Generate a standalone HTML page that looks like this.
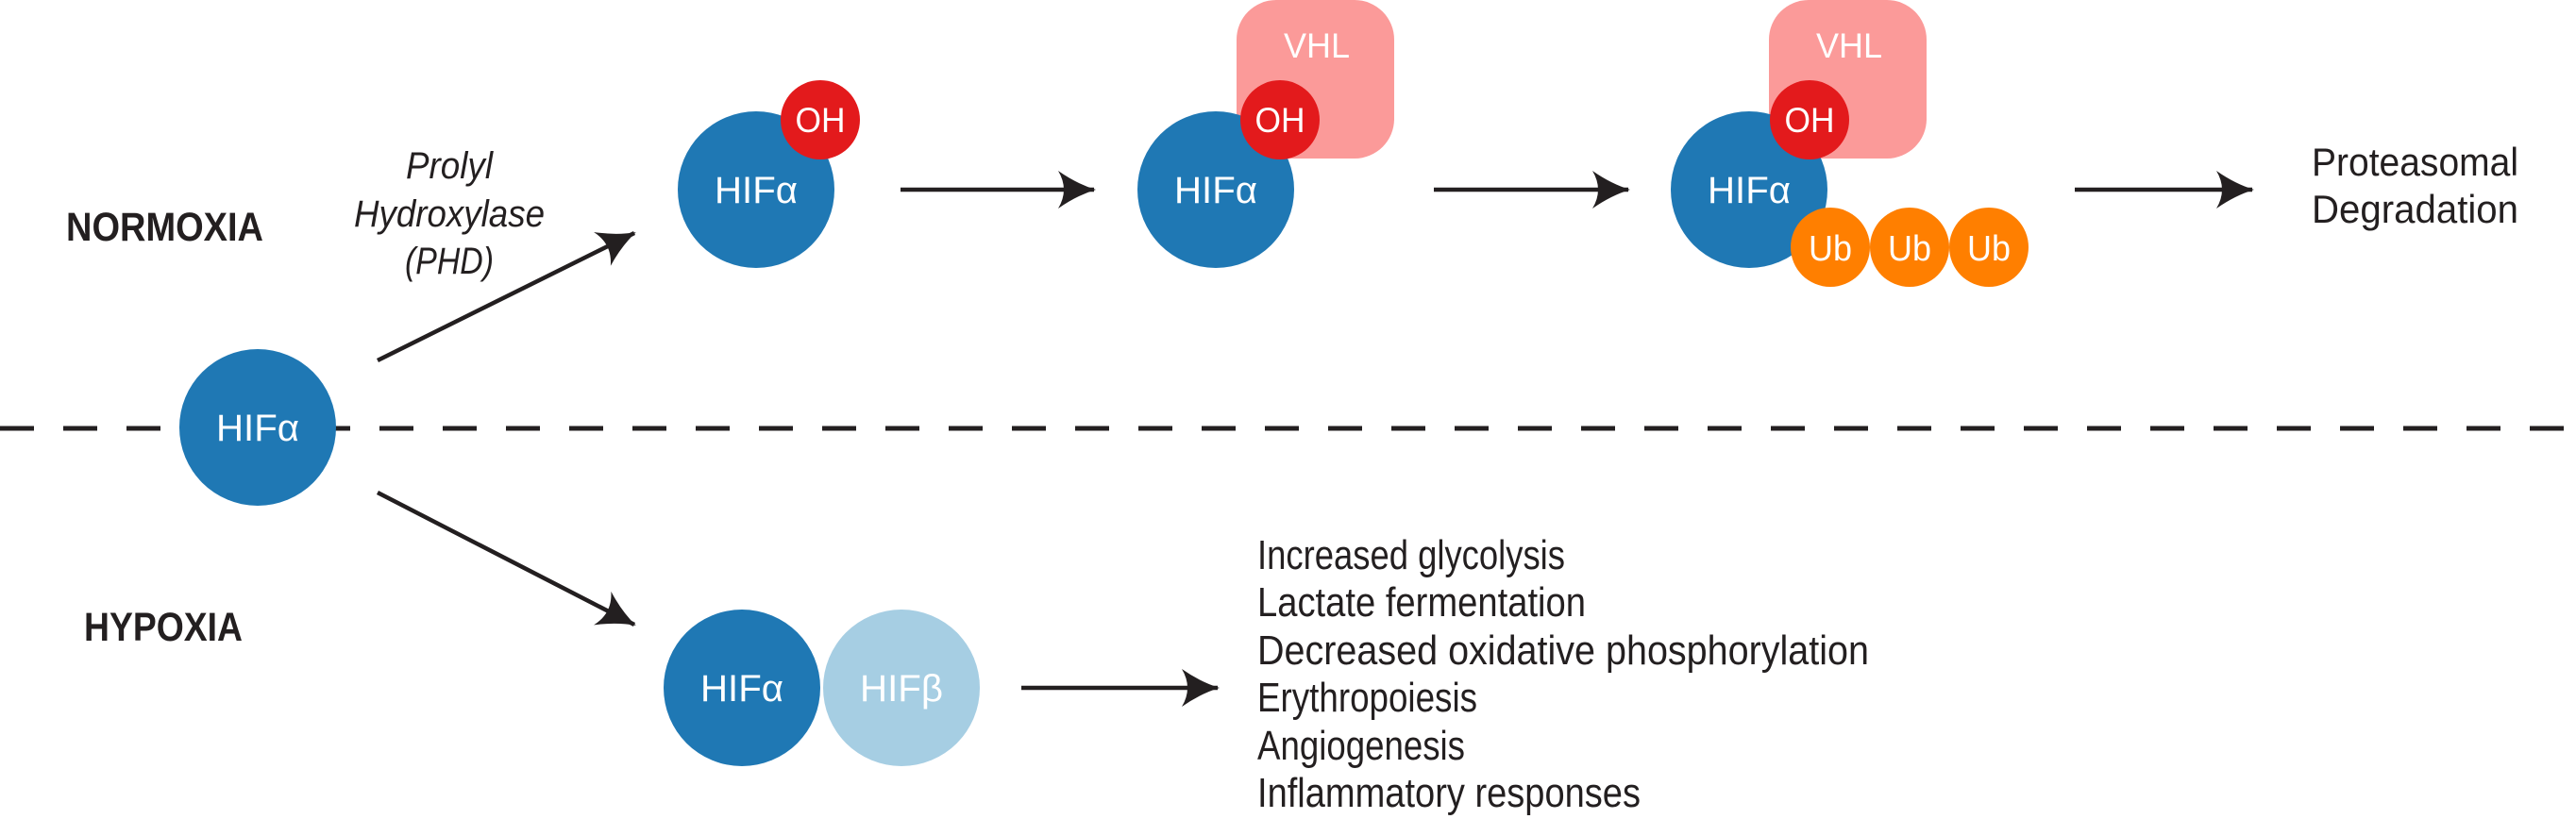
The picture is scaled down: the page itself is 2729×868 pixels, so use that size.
<!DOCTYPE html>
<html><head><meta charset="utf-8"><style>
html,body{margin:0;padding:0;background:#fff;}
svg{display:block;font-family:"Liberation Sans",sans-serif;}
</style></head><body>
<svg width="2729" height="868" viewBox="0 0 2729 868">
<defs>
<marker id="ah" viewBox="0 0 40 40" refX="38" refY="20" markerWidth="40" markerHeight="40" markerUnits="userSpaceOnUse" orient="auto">
<path d="M0,0 Q20,14 40,20 Q20,26 0,40 Q12,20 0,0 Z" fill="#231f20"/>
</marker>
</defs>
<line x1="0" y1="454" x2="2729" y2="454" stroke="#231f20" stroke-width="5" stroke-dasharray="36,31"/>

<text x="70" y="255" font-size="43" font-weight="bold" fill="#231f20" textLength="209" lengthAdjust="spacingAndGlyphs">NORMOXIA</text>
<text x="89" y="679" font-size="43" font-weight="bold" fill="#231f20" textLength="168" lengthAdjust="spacingAndGlyphs">HYPOXIA</text>

<g font-style="italic" font-size="40" fill="#231f20" text-anchor="middle">
<text x="476" y="189" textLength="92" lengthAdjust="spacingAndGlyphs">Prolyl</text>
<text x="476" y="240" textLength="202" lengthAdjust="spacingAndGlyphs">Hydroxylase</text>
<text x="476" y="290" textLength="94" lengthAdjust="spacingAndGlyphs">(PHD)</text>
</g>

<g stroke="#231f20" stroke-width="4.5" fill="none">
<line x1="400" y1="382" x2="672" y2="247" marker-end="url(#ah)"/>
<line x1="400" y1="522" x2="672" y2="662" marker-end="url(#ah)"/>
<line x1="954" y1="201" x2="1159" y2="201" marker-end="url(#ah)"/>
<line x1="1519" y1="201" x2="1725" y2="201" marker-end="url(#ah)"/>
<line x1="2198" y1="201" x2="2386" y2="201" marker-end="url(#ah)"/>
<line x1="1082" y1="729" x2="1290" y2="729" marker-end="url(#ah)"/>
</g>

<g font-size="40" fill="#fff" text-anchor="middle">
<g><circle cx="273" cy="453" r="83" fill="#1f78b4"/><text x="273" y="467" textLength="88" lengthAdjust="spacingAndGlyphs">HIFα</text></g>

<g><circle cx="801" cy="201" r="83" fill="#1f78b4"/><text x="801" y="215" textLength="88" lengthAdjust="spacingAndGlyphs">HIFα</text>
<circle cx="869" cy="127" r="42" fill="#e31a1c"/><text x="869" y="140" font-size="37" textLength="53" lengthAdjust="spacingAndGlyphs">OH</text></g>

<g>
<rect x="1310" y="0" width="167" height="168" rx="42" fill="#fb9a99"/>
<text x="1395" y="61" font-size="37" textLength="70" lengthAdjust="spacingAndGlyphs">VHL</text>
<circle cx="1288" cy="201" r="83" fill="#1f78b4"/><text x="1288" y="215" textLength="88" lengthAdjust="spacingAndGlyphs">HIFα</text>
<circle cx="1356" cy="127" r="42" fill="#e31a1c"/><text x="1356" y="140" font-size="37" textLength="53" lengthAdjust="spacingAndGlyphs">OH</text></g>

<g>
<rect x="1874" y="0" width="167" height="168" rx="42" fill="#fb9a99"/>
<text x="1959" y="61" font-size="37" textLength="70" lengthAdjust="spacingAndGlyphs">VHL</text>
<circle cx="1853" cy="201" r="83" fill="#1f78b4"/><text x="1853" y="215" textLength="88" lengthAdjust="spacingAndGlyphs">HIFα</text>
<circle cx="1917" cy="127" r="42" fill="#e31a1c"/><text x="1917" y="140" font-size="37" textLength="53" lengthAdjust="spacingAndGlyphs">OH</text>
<circle cx="1939" cy="262" r="42" fill="#ff7f00"/><text x="1939" y="276" font-size="38" textLength="46" lengthAdjust="spacingAndGlyphs">Ub</text>
<circle cx="2023" cy="262" r="42" fill="#ff7f00"/><text x="2023" y="276" font-size="38" textLength="46" lengthAdjust="spacingAndGlyphs">Ub</text>
<circle cx="2107" cy="262" r="42" fill="#ff7f00"/><text x="2107" y="276" font-size="38" textLength="46" lengthAdjust="spacingAndGlyphs">Ub</text></g>

<g>
<circle cx="786" cy="729" r="83" fill="#1f78b4"/><text x="786" y="743" textLength="88" lengthAdjust="spacingAndGlyphs">HIFα</text>
<circle cx="955" cy="729" r="83" fill="#a6cee3"/><text x="955" y="743" textLength="88" lengthAdjust="spacingAndGlyphs">HIFβ</text></g>
</g>

<g font-size="42" fill="#231f20">
<text x="2449" y="186" textLength="219" lengthAdjust="spacingAndGlyphs">Proteasomal</text>
<text x="2449" y="236" textLength="219" lengthAdjust="spacingAndGlyphs">Degradation</text>
</g>

<g font-size="44" fill="#231f20">
<text x="1332" y="603" textLength="326" lengthAdjust="spacingAndGlyphs">Increased glycolysis</text>
<text x="1332" y="653" textLength="348" lengthAdjust="spacingAndGlyphs">Lactate fermentation</text>
<text x="1332" y="704" textLength="648" lengthAdjust="spacingAndGlyphs">Decreased oxidative phosphorylation</text>
<text x="1332" y="754" textLength="233" lengthAdjust="spacingAndGlyphs">Erythropoiesis</text>
<text x="1332" y="805" textLength="220" lengthAdjust="spacingAndGlyphs">Angiogenesis</text>
<text x="1332" y="855" textLength="406" lengthAdjust="spacingAndGlyphs">Inflammatory responses</text>
</g>
</svg>
</body></html>
